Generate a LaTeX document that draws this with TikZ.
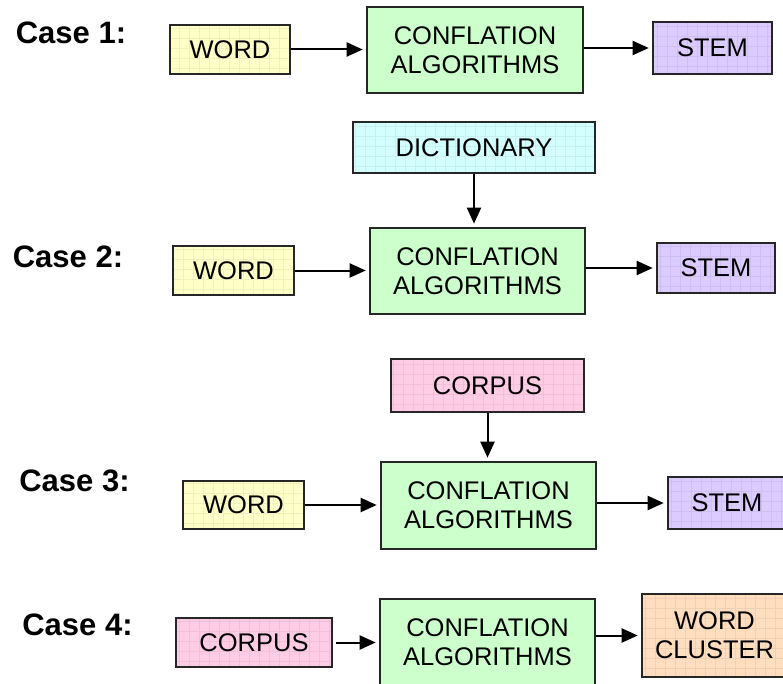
\documentclass[tikz,border=0pt]{standalone}
\usepackage{fontspec}
\setmainfont{Liberation Sans}
\usetikzlibrary{arrows.meta}
\definecolor{cword}{HTML}{FFFFC8}
\definecolor{cconf}{HTML}{CCFFCC}
\definecolor{cstem}{HTML}{DCCBFF}
\definecolor{cdict}{HTML}{D4FFFF}
\definecolor{ccorp}{HTML}{FFCCE6}
\definecolor{cclus}{HTML}{FFDDBF}
\tikzset{
  box/.style={draw=black!85, line width=1.6pt, inner sep=0pt, align=center,
    font=\fontsize{25.5}{29}\selectfont},
  gridbox/.style={box, fill=#1, path picture={
      \draw[#1!80!black!30!#1, line width=0.6pt]
        ([xshift=-2pt,yshift=-2pt]path picture bounding box.south west) grid[step=10pt]
        ([xshift=12pt,yshift=12pt]path picture bounding box.north east);}},
  plainbox/.style={box, fill=#1},
  casel/.style={font=\bfseries\fontsize{31}{36}\selectfont, inner sep=0pt},
  arr/.style={-{Triangle[length=16pt,width=14pt]}, line width=2pt, shorten >=3.5pt}
}
\begin{document}
\begin{tikzpicture}[x=1pt,y=-1pt]
\useasboundingbox (0,0) rectangle (783,684);
\fill[white] (0,0) rectangle (783,684);
% Case 1
\node[casel] (c1) at (71,32.5) {Case 1:};
\node[gridbox=cword, minimum width=120pt, minimum height=49pt] (word1) at (230,49.5) {WORD};
\node[plainbox=cconf, minimum width=216pt, minimum height=86pt] (conf1) at (475,50) {CONFLATION\\ALGORITHMS};
\node[gridbox=cstem, minimum width=119pt, minimum height=52pt] (stem1) at (712.5,48) {STEM};
\draw[arr] (word1.east) -- (word1.east -| conf1.west);
\draw[arr] (conf1.east |- stem1.west) -- (stem1.west);
% Case 2
\node[casel] (c2) at (68,257) {Case 2:};
\node[gridbox=cdict, minimum width=242pt, minimum height=51pt] (dict) at (474,147.5) {DICTIONARY};
\node[plainbox=cconf, minimum width=215pt, minimum height=86pt] (conf2) at (477.5,271) {CONFLATION\\ALGORITHMS};
\node[gridbox=cword, minimum width=121pt, minimum height=49pt] (word2) at (233.5,270.5) {WORD};
\node[gridbox=cstem, minimum width=118pt, minimum height=50pt] (stem2) at (716,268) {STEM};
\draw[arr] (dict.south) -- (dict.south |- conf2.north);
\draw[arr] (word2.east) -- (word2.east -| conf2.west);
\draw[arr] (conf2.east |- stem2.west) -- (stem2.west);
% Case 3
\node[casel] (c3) at (74.5,481) {Case 3:};
\node[gridbox=ccorp, minimum width=193pt, minimum height=53pt] (corp3) at (487.5,385.5) {CORPUS};
\node[plainbox=cconf, minimum width=215pt, minimum height=87pt] (conf3) at (488.5,505.5) {CONFLATION\\ALGORITHMS};
\node[gridbox=cword, minimum width=121pt, minimum height=48pt] (word3) at (243.5,505) {WORD};
\node[gridbox=cstem, minimum width=118pt, minimum height=52pt] (stem3) at (727,503) {STEM};
\draw[arr] (corp3.south) -- (corp3.south |- conf3.north);
\draw[arr] (word3.east) -- (word3.east -| conf3.west);
\draw[arr] (conf3.east |- stem3.west) -- (stem3.west);
% Case 4
\node[casel] (c4) at (77.5,624.5) {Case 4:};
\node[gridbox=ccorp, minimum width=156pt, minimum height=49pt] (corp4) at (254,642.5) {CORPUS};
\node[plainbox=cconf, minimum width=215pt, minimum height=87pt] (conf4) at (487.5,642.5) {CONFLATION\\ALGORITHMS};
\node[gridbox=cclus, minimum width=145pt, minimum height=83pt] (wc) at (714.5,635.5) {WORD\\CLUSTER};
\draw[arr] ([xshift=3pt]corp4.east) -- (corp4.east -| conf4.west);
\draw[arr] (conf4.east |- wc.west) -- (wc.west);
\end{tikzpicture}
\end{document}
